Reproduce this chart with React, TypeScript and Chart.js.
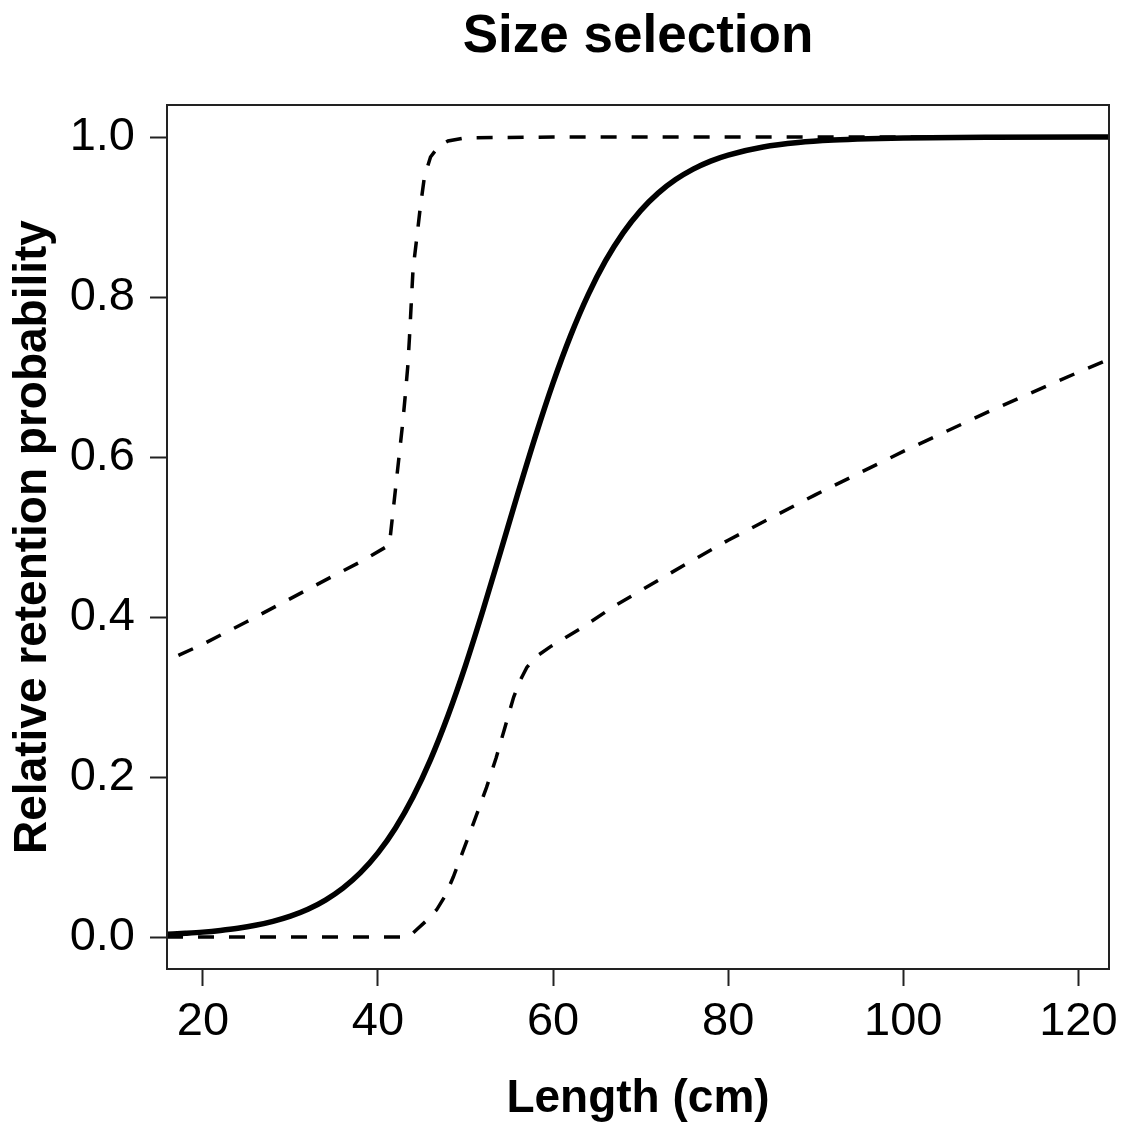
import React, { useEffect, useRef } from "react";
import { Chart, registerables } from "chart.js";

Chart.register(...registerables);

const W = 1121;
const H = 1131;

const titleText = "Size selection";
const xTitle = "Length (cm)";
const yTitle = "Relative retention probability";

const xTicks = [20, 40, 60, 80, 100, 120];
const yTicks = [0, 0.2, 0.4, 0.6, 0.8, 1.0];

// fitted selection curve (solid)
const fitX = [15.9, 18, 20, 22, 24, 26, 28, 30, 32, 34, 36, 38, 40, 42, 44, 46, 48, 50, 52, 54, 56, 58, 60, 62, 64, 66, 68, 70, 72, 74, 76, 78, 80, 84, 88, 92, 96, 100, 110, 123.5];
const fitY = [0.0033, 0.0046, 0.0061, 0.0082, 0.0109, 0.0146, 0.0196, 0.0261, 0.0347, 0.0462, 0.0611, 0.0804, 0.1051, 0.1363, 0.175, 0.2218, 0.2769, 0.3396, 0.4087, 0.4815, 0.5552, 0.6264, 0.6926, 0.7517, 0.8027, 0.8454, 0.8802, 0.908, 0.9299, 0.9468, 0.9599, 0.9699, 0.9774, 0.9874, 0.993, 0.9961, 0.9978, 0.9988, 0.9997, 1.0];

// upper confidence band (dashed)
const upperX = [17.2, 20, 25, 30, 35, 38, 41.3, 41.6, 42.0, 42.4, 42.8, 43.1, 43.4, 43.6, 43.8, 44.0, 44.4, 44.8, 45.3, 46.0, 46.9, 48.0, 50.0, 60, 123.5];
const upperY = [0.352, 0.366, 0.394, 0.423, 0.452, 0.469, 0.49, 0.52, 0.56, 0.6, 0.64, 0.675, 0.713, 0.75, 0.792, 0.834, 0.871, 0.909, 0.95, 0.975, 0.988, 0.995, 0.999, 1.0, 1.0];

// lower confidence band (dashed)
const lowerX = [15.9, 30, 43.5, 44.4, 45.5, 46.7, 47.7, 48.6, 49.7, 51.1, 52.4, 53.5, 54.5, 55.5, 56.3, 57.0, 58.0, 59.7, 63.5, 66.9, 70, 75, 80, 90, 100, 110, 120, 123.5];
const lowerY = [0, 0, 0, 0.009, 0.02, 0.034, 0.052, 0.075, 0.107, 0.148, 0.187, 0.224, 0.262, 0.3, 0.322, 0.337, 0.35, 0.363, 0.388, 0.413, 0.433, 0.465, 0.496, 0.553, 0.607, 0.658, 0.706, 0.722];

const FONT = '"Liberation Sans", Arial, Helvetica, sans-serif';

const boxPlugin = {
  id: "rbox",
  afterDraw(chart: any) {
    const { ctx, chartArea } = chart;
    const { left, top, right, bottom } = chartArea;
    ctx.save();
    ctx.strokeStyle = "#222";
    ctx.lineWidth = 2;
    ctx.strokeRect(left, top, right - left, bottom - top);
    ctx.fillStyle = "#000";
    ctx.font = `bold 53px ${FONT}`;
    ctx.textAlign = "center";
    ctx.textBaseline = "alphabetic";
    ctx.fillText(titleText, (left + right) / 2, 52);
    ctx.restore();
  },
};

function pts(xs: number[], ys: number[]) {
  return xs.map((x, i) => ({ x, y: ys[i] }));
}

export default function App() {
  const ref = useRef<HTMLCanvasElement | null>(null);

  useEffect(() => {
    if (!ref.current) return;
    const chart = new Chart(ref.current, {
      type: "line",
      data: {
        datasets: [
          {
            data: pts(fitX, fitY),
            borderColor: "#000",
            borderWidth: 5.5,
            pointRadius: 0,
            fill: false,
            cubicInterpolationMode: "monotone",
          },
          {
            data: pts(upperX, upperY),
            borderColor: "#000",
            borderWidth: 3.5,
            borderDash: [16, 15],
            pointRadius: 0,
            fill: false,
            tension: 0,
          },
          {
            data: pts(lowerX, lowerY),
            borderColor: "#000",
            borderWidth: 3.5,
            borderDash: [16, 15],
            pointRadius: 0,
            fill: false,
            tension: 0,
          },
        ],
      },
      options: {
        animation: false,
        responsive: false,
        devicePixelRatio: 1,
        layout: { padding: { top: 105, right: 12, bottom: 0, left: 0 } },
        plugins: {
          legend: { display: false },
          tooltip: { enabled: false },
          title: { display: false },
        },
        scales: {
          x: {
            type: "linear",
            min: 15.9,
            max: 123.5,
            afterBuildTicks: (s: any) => {
              s.ticks = xTicks.map((v) => ({ value: v }));
            },
            afterFit: (s: any) => {
              s.height = H - 969;
              s.paddingLeft = 0;
              s.paddingRight = 0;
            },
            border: { display: false },
            grid: {
              drawOnChartArea: false,
              drawTicks: true,
              tickLength: 17,
              tickWidth: 2,
              tickColor: "#222",
            },
            ticks: {
              color: "#000",
              font: { family: FONT, size: 47 },
              padding: 8,
              maxRotation: 0,
              autoSkip: false,
              callback: (v: any) => String(v),
            },
            title: {
              display: true,
              text: xTitle,
              color: "#000",
              font: { family: FONT, size: 46, weight: "bold" },
              padding: { top: 0, bottom: 4 },
            },
          },
          y: {
            type: "linear",
            min: -0.04,
            max: 1.04,
            afterBuildTicks: (s: any) => {
              s.ticks = yTicks.map((v) => ({ value: v }));
            },
            afterFit: (s: any) => {
              s.width = 167;
              s.paddingTop = 0;
              s.paddingBottom = 0;
            },
            border: { display: false },
            grid: {
              drawOnChartArea: false,
              drawTicks: true,
              tickLength: 17,
              tickWidth: 2,
              tickColor: "#222",
            },
            ticks: {
              color: "#000",
              font: { family: FONT, size: 47 },
              padding: 15,
              autoSkip: false,
              callback: (v: any) => Number(v).toFixed(1),
            },
            title: {
              display: true,
              text: yTitle,
              color: "#000",
              font: { family: FONT, size: 46, weight: "bold" },
              padding: { top: 6, bottom: 0 },
            },
          },
        },
      },
      plugins: [boxPlugin],
    } as any);
    return () => chart.destroy();
  }, []);

  return (
    <div style={{ position: "absolute", left: 0, top: 0, width: W, height: H, background: "#fff" }}>
      <canvas ref={ref} width={W} height={H} style={{ width: W, height: H, display: "block" }} />
    </div>
  );
}
